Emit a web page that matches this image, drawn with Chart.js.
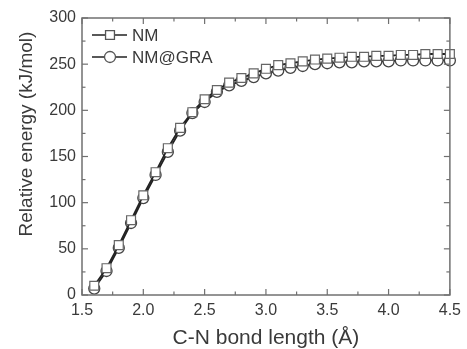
<!DOCTYPE html>
<html>
<head>
<meta charset="utf-8">
<script src="https://cdn.jsdelivr.net/npm/chart.js@4"></script>
<style>
  html, body { margin: 0; padding: 0; background: #fff; }
  #wrap { width: 467px; height: 349px; }
</style>
</head>
<body>
<div id="wrap"><canvas id="chart" width="467" height="349"></canvas></div>
<script>
const bondLength = [1.6, 1.7, 1.8, 1.9, 2.0, 2.1, 2.2, 2.3, 2.4, 2.5, 2.6, 2.7, 2.8, 2.9, 3.0,
  3.1, 3.2, 3.3, 3.4, 3.5, 3.6, 3.7, 3.8, 3.9, 4.0, 4.1, 4.2, 4.3, 4.4, 4.5];
const energyNM = [10, 29, 54, 81, 108, 133, 159, 181, 198, 212, 222, 230, 235, 240, 245,
  249, 251, 253, 255, 256, 257, 258, 258, 259, 259, 260, 260, 261, 261, 261];
const energyGRA = [7, 26, 51, 78, 105, 130, 155, 178, 197, 209, 220, 227, 232, 236, 240,
  243, 246, 248, 250, 251, 252, 252, 253, 253, 253, 254, 254, 254, 254, 254];
const xTicks = [1.5, 2.0, 2.5, 3.0, 3.5, 4.0, 4.5];
const yTicks = [0, 50, 100, 150, 200, 250, 300];
const seriesNames = ["NM", "NM@GRA"];

const axisColor = "#707070";
const textColor = "#3a3a3a";
const font = "'Liberation Sans', Arial, sans-serif";

const toPoints = (ys) => bondLength.map((x, i) => ({ x: x, y: ys[i] }));

// frame, inward ticks, legend and axis titles
const decorPlugin = {
  id: "decor",
  afterDraw(chart) {
    const ctx = chart.ctx;
    const xs = chart.scales.x;
    const ys = chart.scales.y;
    const a = chart.chartArea;
    ctx.save();
    ctx.strokeStyle = axisColor;
    ctx.lineWidth = 1.5;
    ctx.strokeRect(a.left, a.top, a.right - a.left, a.bottom - a.top);

    ctx.lineWidth = 1.2;
    const tick = (x1, y1, x2, y2) => {
      ctx.beginPath();
      ctx.moveTo(x1, y1);
      ctx.lineTo(x2, y2);
      ctx.stroke();
    };
    for (let v = 1.5; v <= 4.5001; v += 0.25) {
      const px = xs.getPixelForValue(v);
      const major = Math.abs(v * 2 - Math.round(v * 2)) < 1e-6;
      const len = major ? 6 : 3.5;
      tick(px, a.bottom, px, a.bottom - len);
      tick(px, a.top, px, a.top + len);
    }
    for (let v = 0; v <= 300; v += 25) {
      const py = ys.getPixelForValue(v);
      const len = v % 50 === 0 ? 6 : 3.5;
      tick(a.left, py, a.left + len, py);
      tick(a.right, py, a.right - len, py);
    }

    // legend
    const items = [
      { name: seriesNames[0], y: 35, style: "rect", r: 6.3 },
      { name: seriesNames[1], y: 57, style: "circle", r: 5.5 }
    ];
    items.forEach((it) => {
      ctx.strokeStyle = "#222";
      ctx.lineWidth = 1.6;
      tick(92, it.y, 127, it.y);
      ctx.fillStyle = "#fff";
      ctx.strokeStyle = "#555";
      ctx.lineWidth = 1.3;
      Chart.helpers.drawPoint(ctx, { pointStyle: it.style, radius: it.r, borderWidth: 1.3 }, 110, it.y);
      ctx.fillStyle = textColor;
      ctx.font = "17px " + font;
      ctx.textBaseline = "middle";
      ctx.textAlign = "left";
      ctx.fillText(it.name, 132, it.y + 1);
    });

    // axis titles
    ctx.fillStyle = textColor;
    ctx.font = "21px " + font;
    ctx.textAlign = "center";
    ctx.textBaseline = "middle";
    ctx.fillText("C-N bond length (Å)", (a.left + a.right) / 2, 338);
    ctx.font = "19px " + font;
    ctx.translate(27, 134);
    ctx.rotate(-Math.PI / 2);
    ctx.fillText("Relative energy (kJ/mol)", 0, 0);
    ctx.restore();
  }
};

new Chart(document.getElementById("chart"), {
  type: "line",
  data: {
    datasets: [
      {
        label: seriesNames[0],
        data: toPoints(energyNM),
        borderColor: "#222",
        borderWidth: 1.8,
        pointStyle: "rect",
        pointRadius: 6.3,
        pointBorderColor: "#666",
        pointBorderWidth: 1.2,
        pointBackgroundColor: "#fff",
        tension: 0
      },
      {
        label: seriesNames[1],
        data: toPoints(energyGRA),
        borderColor: "#222",
        borderWidth: 1.8,
        pointStyle: "circle",
        pointRadius: 5.5,
        pointBorderColor: "#444",
        pointBorderWidth: 1.3,
        pointBackgroundColor: "#fff",
        tension: 0
      }
    ]
  },
  options: {
    responsive: false,
    animation: false,
    clip: false,
    layout: { padding: { top: 18, right: 14, left: 0, bottom: 0 } },
    plugins: { legend: { display: false }, tooltip: { enabled: false } },
    scales: {
      x: {
        type: "linear",
        min: 1.5,
        max: 4.5,
        afterFit: (s) => { s.height = 54; },
        afterBuildTicks: (s) => { s.ticks = xTicks.map((v) => ({ value: v })); },
        grid: { display: false, drawTicks: false },
        border: { display: false },
        ticks: {
          padding: 6,
          color: textColor,
          font: { family: font, size: 16 },
          callback: (v) => v.toFixed(1)
        }
      },
      y: {
        min: 0,
        max: 300,
        afterFit: (s) => { s.width = 82; },
        afterBuildTicks: (s) => { s.ticks = yTicks.map((v) => ({ value: v })); },
        grid: { display: false, drawTicks: false },
        border: { display: false },
        ticks: {
          padding: 6,
          color: textColor,
          font: { family: font, size: 16 }
        }
      }
    }
  },
  plugins: [decorPlugin]
});
</script>
</body>
</html>
